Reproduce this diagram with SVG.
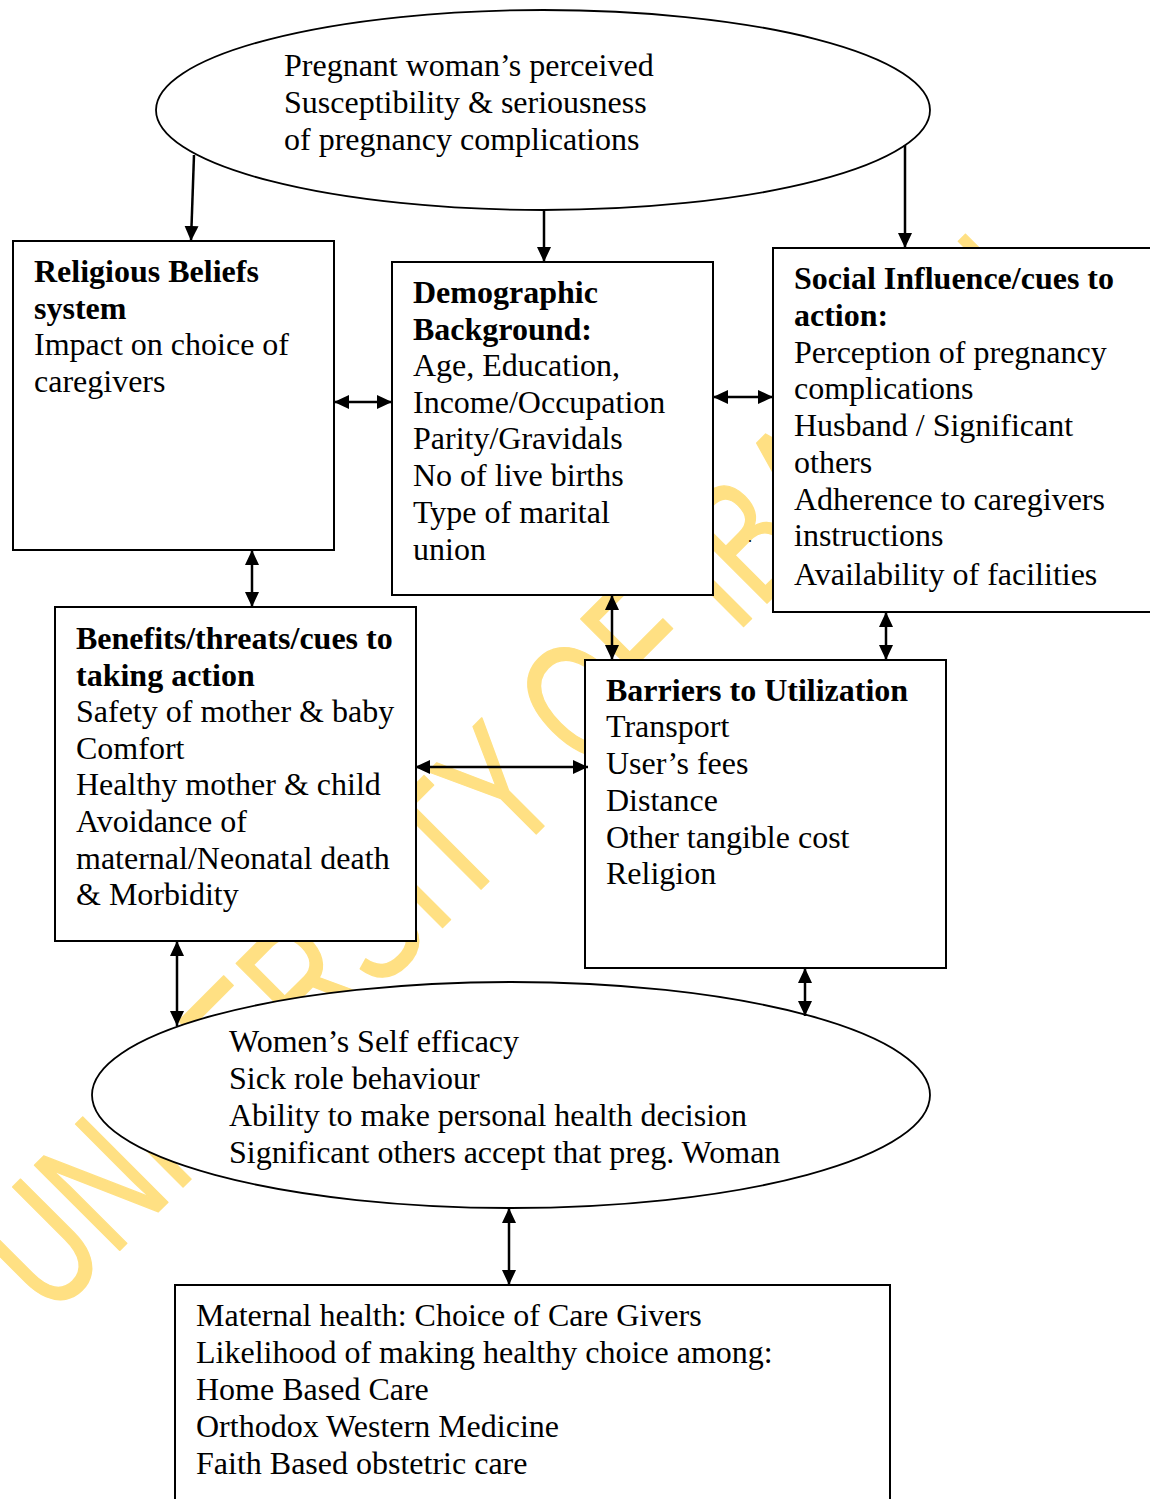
<svg xmlns="http://www.w3.org/2000/svg" width="1150" height="1499" viewBox="0 0 1150 1499">
<style>
.t{font-family:"Liberation Serif","Times New Roman",serif;font-size:32px;fill:#000}
.b{font-weight:bold}
.box{fill:#fff;stroke:#000;stroke-width:2}
.ell{fill:#fff;stroke:#000;stroke-width:1.8}
.c{fill:none;stroke:#000;stroke-width:2.5}
.wm{font-family:"Liberation Sans","Arial",sans-serif;font-size:175px;fill:#FFE083;stroke:#FFE083;stroke-width:1.5;stroke-linejoin:round}
</style>
<defs>
<marker id="ah" viewBox="0 0 15 14" refX="15" refY="7" markerWidth="15" markerHeight="14" markerUnits="userSpaceOnUse" orient="auto-start-reverse">
<path d="M0,0 L15,7 L0,14 z" fill="#000"/>
</marker>
</defs>
<rect width="1150" height="1499" fill="#fff"/>
<g id="watermark">
<text class="wm" transform="translate(50,1320) rotate(-45)" textLength="1425" lengthAdjust="spacingAndGlyphs">UNIVERSITY OF IBADAN</text>
</g>
<g id="perceived">
<ellipse class="ell" cx="543" cy="110" rx="387" ry="100"/>
<text class="t" x="284" y="76">Pregnant woman’s perceived</text>
<text class="t" x="284" y="113">Susceptibility &amp; seriousness</text>
<text class="t" x="284" y="150">of pregnancy complications</text>
</g>
<g id="religious">
<rect class="box" x="13" y="241" width="321" height="309"/>
<text class="t b" x="34" y="282">Religious Beliefs</text>
<text class="t b" x="34" y="319">system</text>
<text class="t" x="34" y="355">Impact on choice of</text>
<text class="t" x="34" y="392">caregivers</text>
</g>
<g id="demographic">
<rect class="box" x="392" y="262" width="321" height="333"/>
<text class="t b" x="413" y="303">Demographic</text>
<text class="t b" x="413" y="340">Background:</text>
<text class="t" x="413" y="376">Age, Education,</text>
<text class="t" x="413" y="413">Income/Occupation</text>
<text class="t" x="413" y="449">Parity/Gravidals</text>
<text class="t" x="413" y="486">No of live births</text>
<text class="t" x="413" y="523">Type of marital</text>
<text class="t" x="413" y="560">union</text>
</g>
<g id="social">
<rect class="box" x="773" y="248" width="390" height="364"/>
<text class="t b" x="794" y="289">Social Influence/cues to</text>
<text class="t b" x="794" y="326">action:</text>
<text class="t" x="794" y="363">Perception of pregnancy</text>
<text class="t" x="794" y="399">complications</text>
<text class="t" x="794" y="436">Husband / Significant</text>
<text class="t" x="794" y="473">others</text>
<text class="t" x="794" y="510">Adherence to caregivers</text>
<text class="t" x="794" y="546">instructions</text>
<text class="t" x="794" y="585">Availability of facilities</text>
</g>
<text class="t" x="748" y="542" style="font-size:16px">.</text>
<g id="benefits">
<rect class="box" x="55" y="607" width="361" height="334"/>
<text class="t b" x="76" y="649">Benefits/threats/cues to</text>
<text class="t b" x="76" y="686">taking action</text>
<text class="t" x="76" y="722">Safety of mother &amp; baby</text>
<text class="t" x="76" y="759">Comfort</text>
<text class="t" x="76" y="795">Healthy mother &amp; child</text>
<text class="t" x="76" y="832">Avoidance of</text>
<text class="t" x="76" y="869">maternal/Neonatal death</text>
<text class="t" x="76" y="905">&amp; Morbidity</text>
</g>
<g id="barriers">
<rect class="box" x="585" y="660" width="361" height="308"/>
<text class="t b" x="606" y="701">Barriers to Utilization</text>
<text class="t" x="606" y="737">Transport</text>
<text class="t" x="606" y="774">User’s fees</text>
<text class="t" x="606" y="811">Distance</text>
<text class="t" x="606" y="848">Other tangible cost</text>
<text class="t" x="606" y="884">Religion</text>
</g>
<g id="selfefficacy">
<ellipse class="ell" cx="511" cy="1095" rx="419" ry="113"/>
<text class="t" x="229" y="1052">Women’s Self efficacy</text>
<text class="t" x="229" y="1089">Sick role behaviour</text>
<text class="t" x="229" y="1126">Ability to make personal health decision</text>
<text class="t" x="229" y="1163">Significant others accept that preg. Woman</text>
</g>
<g id="choice">
<rect class="box" x="175" y="1285" width="715" height="240"/>
<text class="t" x="196" y="1326">Maternal health: Choice of Care Givers</text>
<text class="t" x="196" y="1363">Likelihood of making healthy choice among:</text>
<text class="t" x="196" y="1400">Home Based Care</text>
<text class="t" x="196" y="1437">Orthodox Western Medicine</text>
<text class="t" x="196" y="1474">Faith Based obstetric care</text>
</g>
<g id="connectors">
<path class="c" d="M194,155 L191,241" marker-end="url(#ah)"/>
<path class="c" d="M544,211 L544,262" marker-end="url(#ah)"/>
<path class="c" d="M905,145 L905,248" marker-end="url(#ah)"/>
<path class="c" d="M334,402 L392,402" marker-start="url(#ah)" marker-end="url(#ah)"/>
<path class="c" d="M713,397 L773,397" marker-start="url(#ah)" marker-end="url(#ah)"/>
<path class="c" d="M252,550 L252,607" marker-start="url(#ah)" marker-end="url(#ah)"/>
<path class="c" d="M612,595 L612,660" marker-start="url(#ah)" marker-end="url(#ah)"/>
<path class="c" d="M886,612 L886,660" marker-start="url(#ah)" marker-end="url(#ah)"/>
<path class="c" d="M415,767 L588,767" marker-start="url(#ah)" marker-end="url(#ah)"/>
<path class="c" d="M177,941 L177,1026" marker-start="url(#ah)" marker-end="url(#ah)"/>
<path class="c" d="M805,968 L805,1016" marker-start="url(#ah)" marker-end="url(#ah)"/>
<path class="c" d="M509,1208 L509,1285" marker-start="url(#ah)" marker-end="url(#ah)"/>
</g>
</svg>
